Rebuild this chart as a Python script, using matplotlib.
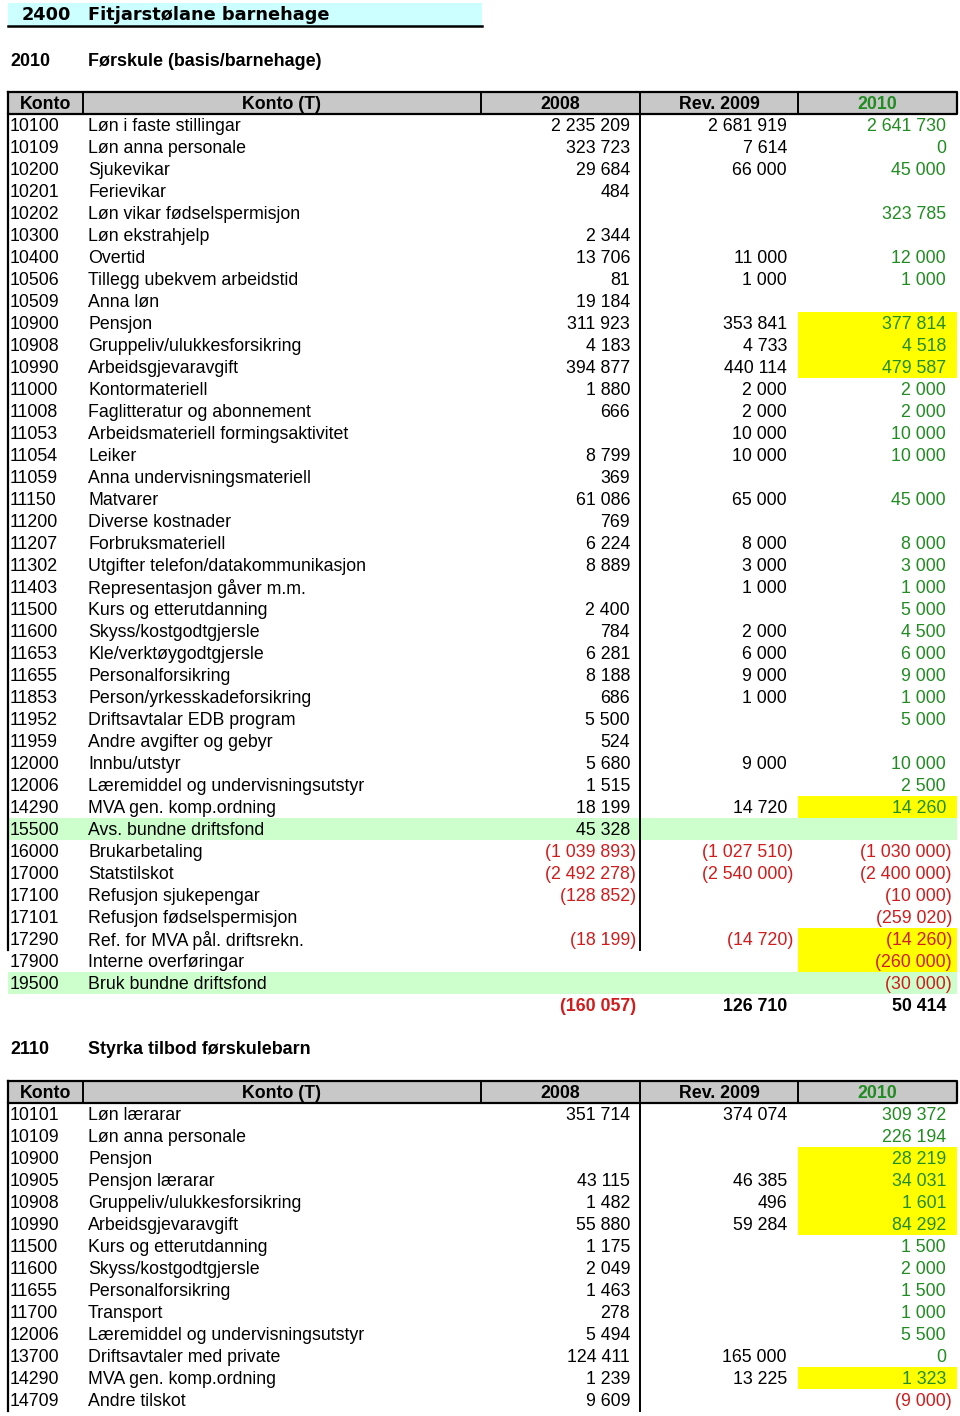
import matplotlib.pyplot as plt
from matplotlib.patches import Rectangle

plt.rcParams['font.family'] = ['Liberation Sans', 'DejaVu Sans']

# ---- data: 2010 Førskule (basis/barnehage)
konto_a = ["10100", "10109", "10200", "10201", "10202", "10300", "10400", "10506",
           "10509", "10900", "10908", "10990", "11000", "11008", "11053", "11054",
           "11059", "11150", "11200", "11207", "11302", "11403", "11500", "11600",
           "11653", "11655", "11853", "11952", "11959", "12000", "12006", "14290",
           "15500", "16000", "17000", "17100", "17101", "17290", "17900", "19500"]
names_a = ["Løn i faste stillingar", "Løn anna personale", "Sjukevikar", "Ferievikar",
           "Løn vikar fødselspermisjon", "Løn ekstrahjelp", "Overtid",
           "Tillegg ubekvem arbeidstid", "Anna løn", "Pensjon",
           "Gruppeliv/ulukkesforsikring", "Arbeidsgjevaravgift", "Kontormateriell",
           "Faglitteratur og abonnement", "Arbeidsmateriell formingsaktivitet", "Leiker",
           "Anna undervisningsmateriell", "Matvarer", "Diverse kostnader",
           "Forbruksmateriell", "Utgifter telefon/datakommunikasjon",
           "Representasjon gåver m.m.", "Kurs og etterutdanning", "Skyss/kostgodtgjersle",
           "Kle/verktøygodtgjersle", "Personalforsikring", "Person/yrkesskadeforsikring",
           "Driftsavtalar EDB program", "Andre avgifter og gebyr", "Innbu/utstyr",
           "Læremiddel og undervisningsutstyr", "MVA gen. komp.ordning",
           "Avs. bundne driftsfond", "Brukarbetaling", "Statstilskot",
           "Refusjon sjukepengar", "Refusjon fødselspermisjon",
           "Ref. for MVA pål. driftsrekn.", "Interne overføringar", "Bruk bundne driftsfond"]
y2008_a = [2235209, 323723, 29684, 484, None, 2344, 13706, 81, 19184, 311923, 4183,
           394877, 1880, 666, None, 8799, 369, 61086, 769, 6224, 8889, None, 2400, 784,
           6281, 8188, 686, 5500, 524, 5680, 1515, 18199, 45328, -1039893, -2492278,
           -128852, None, -18199, None, None]
y2009_a = [2681919, 7614, 66000, None, None, None, 11000, 1000, None, 353841, 4733,
           440114, 2000, 2000, 10000, 10000, None, 65000, None, 8000, 3000, 1000, None,
           2000, 6000, 9000, 1000, None, None, 9000, None, 14720, None, -1027510,
           -2540000, None, None, -14720, None, None]
y2010_a = [2641730, 0, 45000, None, 323785, None, 12000, 1000, None, 377814, 4518,
           479587, 2000, 2000, 10000, 10000, None, 45000, None, 8000, 3000, 1000, 5000,
           4500, 6000, 9000, 1000, 5000, None, 10000, 2500, 14260, None, -1030000,
           -2400000, -10000, -259020, -14260, -260000, -30000]
total_a = [-160057, 126710, 50414]
yellow_a = ["10900", "10908", "10990", "14290", "17290", "17900"]
green_a = ["15500", "19500"]

# ---- data: 2110 Styrka tilbod førskulebarn
konto_b = ["10101", "10109", "10900", "10905", "10908", "10990", "11500", "11600",
           "11655", "11700", "12006", "13700", "14290", "14709"]
names_b = ["Løn lærarar", "Løn anna personale", "Pensjon", "Pensjon lærarar",
           "Gruppeliv/ulukkesforsikring", "Arbeidsgjevaravgift", "Kurs og etterutdanning",
           "Skyss/kostgodtgjersle", "Personalforsikring", "Transport",
           "Læremiddel og undervisningsutstyr", "Driftsavtaler med private",
           "MVA gen. komp.ordning", "Andre tilskot"]
y2008_b = [351714, None, None, 43115, 1482, 55880, 1175, 2049, 1463, 278, 5494, 124411,
           1239, 9609]
y2009_b = [374074, None, None, 46385, 496, 59284, None, None, None, None, None, 165000,
           13225, None]
y2010_b = [309372, 226194, 28219, 34031, 1601, 84292, 1500, 2000, 1500, 1000, 5500, 0,
           1323, -9000]
yellow_b = ["10900", "10905", "10908", "10990", "14290"]

headers = ["Konto", "Konto (T)", "2008", "Rev. 2009", "2010"]

GREEN = "#218c21"
RED = "#d01c1c"
FS = 12.75
edges = [8, 83, 481, 640, 798, 957]
ROW = 22
DY = 1.5  # small baseline nudge so text sits like the reference


def fmt(v):
    s = f"{abs(v):,}".replace(",", " ")
    return f"({s})" if v < 0 else s


fig = plt.figure(figsize=(9.6, 14.16), dpi=100)
ax = fig.add_axes([0, 0, 1, 1])
ax.set_xlim(0, 960)
ax.set_ylim(1416, 0)
ax.axis("off")


def put_value(x_right, y, v, color, bold=False):
    if v is None:
        return
    if v < 0:
        color = RED
        x_right += 6
    ax.text(x_right, y, fmt(v), ha="right", va="center", fontsize=FS, color=color,
            fontweight="bold" if bold else "normal")


def draw_table(top, konto, names, c08, c09, c10, yellow, green, vline_rows):
    # header
    ax.add_patch(Rectangle((edges[0], top), edges[-1] - edges[0], ROW,
                           facecolor="#c8c8c8", edgecolor="none"))
    ax.plot([edges[0], edges[-1], edges[-1], edges[0], edges[0]],
            [top, top, top + ROW, top + ROW, top], color="black", lw=1.6)
    for x in edges[1:-1]:
        ax.plot([x, x], [top, top + ROW], color="black", lw=1.4)
    for i, h in enumerate(headers):
        ax.text((edges[i] + edges[i + 1]) / 2, top + ROW / 2 + DY, h, ha="center",
                va="center", fontsize=FS, fontweight="bold",
                color=GREEN if h == "2010" else "black")
    y0 = top + ROW
    for i, k in enumerate(konto):
        yc = y0 + i * ROW + ROW / 2 + DY
        if k in green:
            ax.add_patch(Rectangle((edges[0], y0 + i * ROW), edges[-1] - edges[0], ROW,
                                   facecolor="#ccffcc", edgecolor="none"))
        if k in yellow:
            ax.add_patch(Rectangle((edges[4], y0 + i * ROW), edges[5] - edges[4], ROW,
                                   facecolor="#ffff00", edgecolor="none"))
        ax.text(10, yc, k, ha="left", va="center", fontsize=FS)
        ax.text(88, yc, names[i], ha="left", va="center", fontsize=FS)
        put_value(630, yc, c08[i], "black")
        put_value(787, yc, c09[i], "black")
        put_value(946, yc, c10[i], GREEN)
    yend = y0 + vline_rows * ROW
    ax.plot([edges[0], edges[0]], [top + ROW, yend], color="black", lw=1.6)
    ax.plot([edges[3], edges[3]], [top + ROW, yend], color="black", lw=1.4)
    return y0 + len(konto) * ROW


# title
ax.add_patch(Rectangle((8, 3), 474, 23, facecolor="#ccffff", edgecolor="none"))
ax.plot([8, 482], [26, 26], color="black", lw=1.8)
ax.text(22, 15.5, "2400", ha="left", va="center", fontsize=12.8, fontweight="bold",
        family="DejaVu Sans")
ax.text(88, 15.5, "Fitjarstølane barnehage", ha="left", va="center", fontsize=12.8,
        fontweight="bold", family="DejaVu Sans")

ax.text(10, 61, "2010", ha="left", va="center", fontsize=12.9, fontweight="bold")
ax.text(88, 61, "Førskule (basis/barnehage)", ha="left", va="center", fontsize=12.9,
        fontweight="bold")

end_a = draw_table(92, konto_a, names_a, y2008_a, y2009_a, y2010_a, yellow_a, green_a,
                   konto_a.index("17290") + 1)
yc = end_a + ROW / 2 + DY
put_value(630, yc, total_a[0], "black", bold=True)
put_value(787, yc, total_a[1], "black", bold=True)
put_value(946, yc, total_a[2], "black", bold=True)

ax.text(10, 1050, "2110", ha="left", va="center", fontsize=12.9, fontweight="bold")
ax.text(88, 1050, "Styrka tilbod førskulebarn", ha="left", va="center", fontsize=12.9,
        fontweight="bold")

draw_table(1081, konto_b, names_b, y2008_b, y2009_b, y2010_b, yellow_b, [],
           len(konto_b))

fig.savefig("out.png", dpi=100)
